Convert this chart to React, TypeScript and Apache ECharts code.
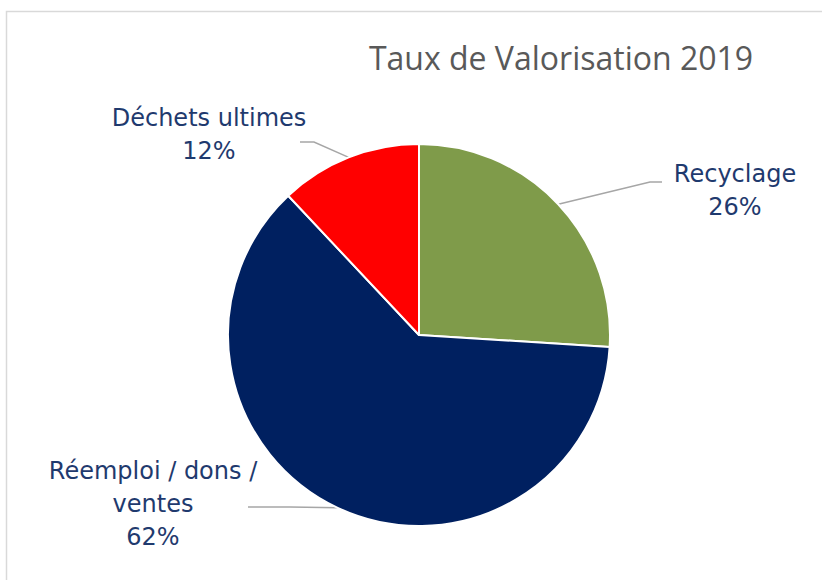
import React, { useEffect, useRef } from "react";
import * as echarts from "echarts";

const categories = ["Recyclage", "Réemploi / dons / ventes", "Déchets ultimes"];
const values = [26, 62, 12];
const colors = ["#7F9B4A", "#002060", "#FF0000"];
const labelNames = ["Recyclage", "Réemploi / dons /\nventes", "Déchets ultimes"];
const titleText = "Taux de Valorisation 2019";

// label anchor positions (centre of each label block) and leader bends
const labelPos = [
  { x: 735, y: 190, bend: [650, 182], end: [662, 182] },
  { x: 153, y: 504, bend: [290, 507], end: [248, 507] },
  { x: 209, y: 134, bend: [314, 142], end: [300, 142] },
];

export default function App() {
  const ref = useRef<HTMLDivElement>(null);
  useEffect(() => {
    if (!ref.current) return;
    const chart = echarts.init(ref.current, null, { renderer: "svg" });
    chart.setOption({
      animation: false,
      backgroundColor: "#ffffff",
      graphic: [
        {
          type: "rect",
          shape: { x: 6.5, y: 11.5, width: 900, height: 700 },
          style: { fill: "none", stroke: "#D9D9D9", lineWidth: 1.5 },
          z: 0,
        },
      ],
      title: {
        text: titleText,
        left: 556,
        top: 36,
        textAlign: "center",
        textStyle: {
          fontFamily: "Open Sans",
          fontSize: 32,
          fontWeight: "normal",
          color: "#595959",
        },
      },
      series: [
        {
          type: "pie",
          center: [419, 335],
          radius: 191,
          startAngle: 90,
          clockwise: true,
          data: categories.map((c, i) => ({
            name: c,
            value: values[i],
            itemStyle: { color: colors[i] },
          })),
          itemStyle: { borderColor: "#ffffff", borderWidth: 2 },
          label: {
            show: true,
            position: "outside",
            formatter: (p: any) => `${labelNames[p.dataIndex]}\n${Math.round(p.percent)}%`,
            fontFamily: "DejaVu Sans",
            fontSize: 24,
            lineHeight: 33,
            color: "#1F3A6E",
            align: "center",
          },
          labelLine: {
            show: true,
            length: 20,
            length2: 20,
            lineStyle: { color: "#A6A6A6", width: 1.5 },
          },
          labelLayout: (params: any) => {
            const lp = labelPos[params.dataIndex];
            const start = params.labelLinePoints ? params.labelLinePoints[0] : lp.bend;
            return {
              x: lp.x,
              y: lp.y,
              align: "center",
              verticalAlign: "middle",
              labelLinePoints: [start, lp.bend, lp.end],
            };
          },
          emphasis: { disabled: true },
        },
      ],
    });
    return () => chart.dispose();
  }, []);
  return (
    <div
      ref={ref}
      style={{ position: "fixed", left: 0, top: 0, width: 822, height: 580 }}
    />
  );
}
